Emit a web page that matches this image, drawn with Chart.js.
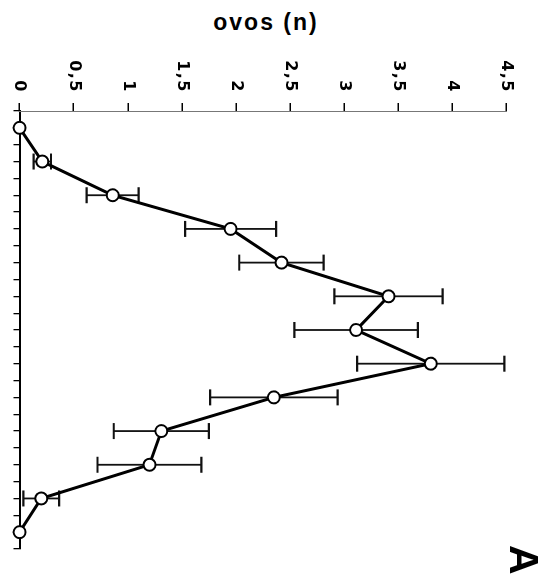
<!DOCTYPE html>
<html>
<head>
<meta charset="utf-8">
<script src="https://cdn.jsdelivr.net/npm/chart.js@4.4.1/dist/chart.umd.min.js"></script>
<style>
  html, body { margin: 0; padding: 0; background: #fff; }
  body { width: 551px; height: 582px; position: relative; overflow: hidden; }
  /* o gráfico é desenhado deitado e girado 90° no sentido horário */
  #grafico { position: absolute; left: 0; top: 0; transform-origin: 0 0; transform: translate(551px, 0) rotate(90deg); }
  #titulo { position: absolute; left: 116px; top: 11px; width: 300px; text-align: center;
            font: bold 23px "Liberation Sans", Arial, sans-serif; line-height: 23px; letter-spacing: 2px; color: #000; }
</style>
</head>
<body>
<div id="titulo">ovos (n)</div>
<canvas id="grafico" width="582" height="551"></canvas>
<script>
// dias de coleta, média de ovos e erro padrão
const dias = [0, 1, 2, 3, 4, 5, 6, 7, 8, 9, 10, 11, 12];
const ovos = [0, 0.21, 0.86, 1.95, 2.42, 3.41, 3.11, 3.80, 2.35, 1.31, 1.20, 0.20, 0];
const erro = [0, 0.08, 0.24, 0.42, 0.39, 0.50, 0.57, 0.68, 0.59, 0.44, 0.48, 0.165, 0];
const rotulosY = ['0', '0,5', '1', '1,5', '2', '2,5', '3', '3,5', '4', '4,5'];

const barrasErro = {
  id: 'barrasErro',
  beforeDraw(chart) {
    chart.ctx.letterSpacing = '1.5px';
  },
  beforeDatasetsDraw(chart) {
    const { ctx, scales: { x, y } } = chart;
    ctx.save();
    ctx.strokeStyle = '#111';
    dias.forEach((d, i) => {
      if (!erro[i]) return;
      const px = x.getPixelForValue(d);
      const cima = y.getPixelForValue(ovos[i] + erro[i]);
      const baixo = y.getPixelForValue(ovos[i] - erro[i]);
      ctx.lineWidth = 1.8;
      ctx.beginPath();
      ctx.moveTo(px, cima);
      ctx.lineTo(px, baixo);
      ctx.stroke();
      ctx.lineWidth = 2.2;
      ctx.beginPath();
      ctx.moveTo(px - 8, cima); ctx.lineTo(px + 8, cima);
      ctx.moveTo(px - 8, baixo); ctx.lineTo(px + 8, baixo);
      ctx.stroke();
    });
    ctx.restore();
  },
  afterDraw(chart) {
    const ctx = chart.ctx;
    ctx.save();
    ctx.letterSpacing = '0px';
    ctx.fillStyle = '#000';
    ctx.font = 'bold 41px "Liberation Sans", Arial, sans-serif';
    ctx.textAlign = 'left';
    ctx.textBaseline = 'alphabetic';
    ctx.fillText('A', 545, 41);
    ctx.restore();
  }
};

new Chart(document.getElementById('grafico'), {
  type: 'line',
  data: {
    datasets: [{
      data: dias.map((d, i) => ({ x: d, y: ovos[i] })),
      borderColor: '#000',
      borderWidth: 3,
      tension: 0,
      pointRadius: 6,
      pointBorderWidth: 2,
      pointBackgroundColor: '#fff',
      pointBorderColor: '#000',
      clip: false
    }]
  },
  options: {
    responsive: false,
    animation: false,
    layout: { padding: { top: 44.5, right: 33, bottom: 0, left: 0 } },
    plugins: { legend: { display: false }, tooltip: { enabled: false } },
    scales: {
      x: {
        type: 'linear',
        min: -0.5,
        max: 12.5,
        afterFit(s) { s.height = 17; },
        ticks: { stepSize: 0.5, autoSkip: false, maxRotation: 0, callback: () => '' },
        grid: { drawOnChartArea: false, tickLength: 6, color: '#000', lineWidth: 1.3 },
        border: { color: '#000', width: 2 }
      },
      y: {
        min: 0,
        max: 4.5,
        afterFit(s) { s.width = 111; },
        ticks: {
          stepSize: 0.5,
          padding: 10,
          color: '#000',
          font: { family: 'DejaVu Sans', size: 16, weight: 'bold' },
          callback: (v, i) => rotulosY[i]
        },
        grid: { drawOnChartArea: false, tickLength: 8, color: '#000', lineWidth: 1.5 },
        border: { color: '#777', width: 1 }
      }
    }
  },
  plugins: [barrasErro]
});
</script>
</body>
</html>
